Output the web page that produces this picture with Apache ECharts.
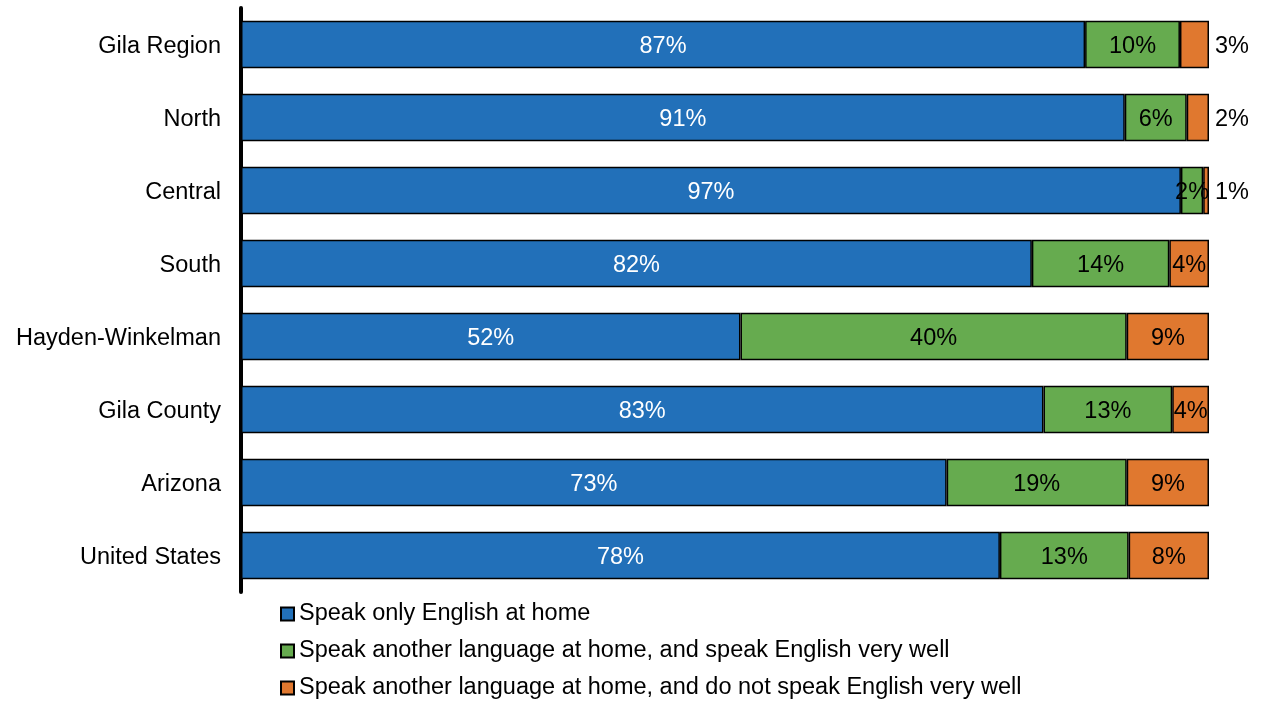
<!DOCTYPE html>
<html>
<head>
<meta charset="utf-8">
<script src="https://cdn.jsdelivr.net/npm/echarts@6/dist/echarts.min.js"></script>
<style>html,body{margin:0;padding:0;background:#fff;}#c{width:1267px;height:702px;}</style>
</head>
<body>
<div id="c"></div>
<script>
const categories = ['Gila Region','North','Central','South','Hayden-Winkelman','Gila County','Arizona','United States'];
const seriesNames = ['Speak only English at home','Speak another language at home, and speak English very well','Speak another language at home, and do not speak English very well'];
const onlyEnglish = [87.2, 91.3, 97.1, 81.7, 51.6, 82.9, 72.9, 78.4];
const englishVeryWell = [9.8, 6.4, 2.3, 14.2, 39.9, 13.3, 18.6, 13.3];
const notVeryWell = [3.0, 2.3, 0.6, 4.1, 8.5, 3.8, 8.5, 8.3];
const outsideLabel = [true, true, true, false, false, false, false, false];

const FONT = '"Liberation Sans", Arial, sans-serif';
const FS = 23.5;
const colors = ['#2270b9', '#66ab4f', '#e0782f'];
const fmt = p => Math.round(p.value) + '%';

const chart = echarts.init(document.getElementById('c'), null, {renderer: 'canvas'});
function mk(name, data, color, labelColor, idx) {
  return {
    name: name,
    type: 'bar',
    stack: 'total',
    barCategoryGap: '35%',
    itemStyle: {color: color, borderColor: '#000', borderWidth: 1.5},
    label: {show: true, position: 'inside', color: labelColor, fontFamily: FONT, fontSize: FS, formatter: fmt, offset: [0, 2]},
    emphasis: {disabled: true},
    data: data.map((v, i) => {
      if (idx === 2 && outsideLabel[i]) {
        return {value: v, label: {position: 'right', distance: 6}};
      }
      return v;
    })
  };
}
chart.setOption({
  animation: false,
  grid: {left: 241, right: 58, top: 8, bottom: 110},
  xAxis: {type: 'value', min: 0, max: 100, show: false},
  yAxis: {
    type: 'category', data: categories, inverse: true,
    axisLine: {show: true, lineStyle: {color: '#000', width: 4}},
    axisTick: {show: false},
    axisLabel: {
      color: '#000', fontFamily: FONT, fontSize: FS, margin: 20,
      formatter: v => '{a|' + v + '}',
      rich: {a: {color: '#000', fontFamily: FONT, fontSize: FS, padding: [4, 0, 0, 0]}}
    }
  },
  legend: {
    orient: 'vertical', left: 280, top: 602, height: 120, padding: 0,
    itemWidth: 13, itemHeight: 13, itemGap: 13,
    icon: 'rect',
    textStyle: {color: '#000', fontFamily: FONT, fontSize: FS},
    data: seriesNames
  },
  series: [
    mk(seriesNames[0], onlyEnglish, colors[0], '#fff', 0),
    mk(seriesNames[1], englishVeryWell, colors[1], '#000', 1),
    mk(seriesNames[2], notVeryWell, colors[2], '#000', 2)
  ]
});
</script>
</body>
</html>
